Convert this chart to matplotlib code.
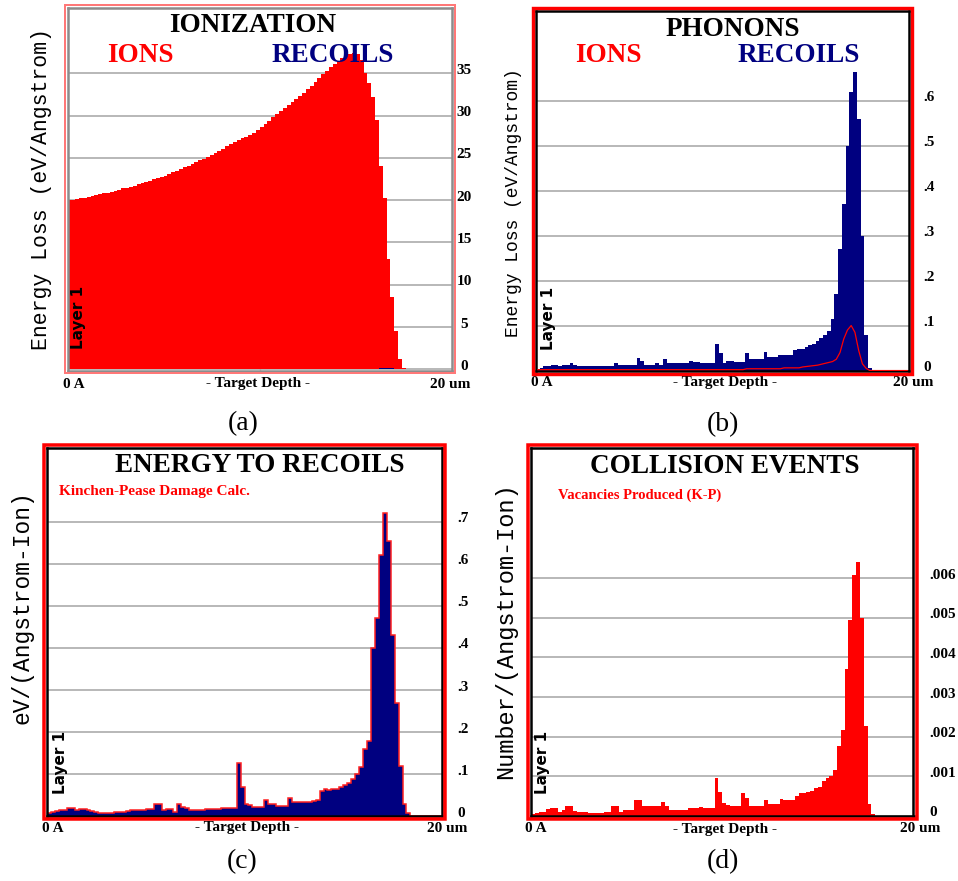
import numpy as np
import matplotlib.pyplot as plt
from matplotlib.patches import Rectangle

# 100 depth bins, 0 - 20 um (SRIM style)
depth_edges = np.linspace(0, 20, 101)
depth_centers = (depth_edges[:-1] + depth_edges[1:]) / 2

# (a) ionization, eV/Angstrom
ioniz_ions = [20.0, 20.0, 20.1, 20.2, 20.3, 20.4, 20.5, 20.6, 20.7, 20.8,
              20.9, 21.0, 21.1, 21.2, 21.4, 21.5, 21.6, 21.7, 21.9, 22.0,
              22.2, 22.3, 22.5, 22.6, 22.8, 22.9, 23.1, 23.3, 23.5, 23.7,
              23.9, 24.1, 24.3, 24.5, 24.7, 24.9, 25.1, 25.3, 25.6, 25.8,
              26.1, 26.4, 26.7, 26.9, 27.1, 27.3, 27.5, 27.7, 28.0, 28.3,
              28.7, 29.0, 29.4, 29.8, 30.2, 30.6, 30.9, 31.3, 31.6, 32.0,
              32.3, 32.7, 33.1, 33.5, 34.0, 34.4, 34.9, 35.3, 35.7, 36.1,
              36.5, 36.8, 37.1, 37.3, 37.4, 37.3, 36.6, 35.0, 33.8, 32.2,
              29.5, 24.0, 20.3, 13.0, 8.5, 4.5, 1.2, 0.2, 0, 0,
              0, 0, 0, 0, 0, 0, 0, 0, 0, 0]
ioniz_recoils = [0]*81 + [0.2, 0.2, 0.2, 0.2] + [0]*15

# (b) phonons, eV/Angstrom
phonon_recoils = [0.004, 0.006, 0.009, 0.009, 0.013, 0.013, 0.011, 0.013, 0.013, 0.017,
                  0.012, 0.011, 0.009, 0.009, 0.009, 0.009, 0.009, 0.009, 0.009, 0.009,
                  0.009, 0.017, 0.013, 0.012, 0.013, 0.013, 0.013, 0.027, 0.022, 0.012,
                  0.012, 0.012, 0.017, 0.012, 0.025, 0.017, 0.017, 0.017, 0.017, 0.017,
                  0.017, 0.022, 0.020, 0.019, 0.017, 0.017, 0.017, 0.017, 0.060, 0.038,
                  0.017, 0.022, 0.021, 0.020, 0.020, 0.020, 0.040, 0.025, 0.025, 0.025,
                  0.025, 0.042, 0.030, 0.030, 0.030, 0.035, 0.035, 0.035, 0.035, 0.045,
                  0.048, 0.048, 0.052, 0.056, 0.060, 0.066, 0.072, 0.078, 0.088, 0.115,
                  0.17, 0.27, 0.37, 0.50, 0.62, 0.663, 0.56, 0.30, 0.08, 0.005,
                  0, 0, 0, 0, 0, 0, 0, 0, 0, 0]
phonon_ions = ([0.002]*56 + [0.004]*10 + [0.006]*5 +
               [0.008, 0.009, 0.010, 0.011, 0.012, 0.014, 0.016, 0.018, 0.020, 0.025,
                0.04, 0.07, 0.09, 0.10, 0.085, 0.045, 0.015, 0.005] + [0]*11)

# (c) energy to recoils, eV/(Angstrom-Ion)
energy_recoils = [0.008, 0.010, 0.012, 0.014, 0.014, 0.020, 0.019, 0.014, 0.018, 0.018,
                  0.014, 0.012, 0.010, 0.009, 0.008, 0.008, 0.008, 0.010, 0.011, 0.011,
                  0.012, 0.016, 0.014, 0.014, 0.016, 0.018, 0.018, 0.030, 0.030, 0.016,
                  0.018, 0.018, 0.010, 0.029, 0.022, 0.020, 0.016, 0.014, 0.014, 0.015,
                  0.018, 0.018, 0.018, 0.018, 0.020, 0.020, 0.020, 0.020, 0.127, 0.070,
                  0.030, 0.026, 0.022, 0.022, 0.022, 0.038, 0.030, 0.029, 0.024, 0.024,
                  0.024, 0.043, 0.034, 0.034, 0.034, 0.034, 0.034, 0.036, 0.038, 0.060,
                  0.065, 0.063, 0.066, 0.066, 0.070, 0.075, 0.079, 0.088, 0.100, 0.118,
                  0.160, 0.180, 0.400, 0.470, 0.620, 0.720, 0.655, 0.430, 0.270, 0.120,
                  0.030, 0.008, 0, 0, 0, 0, 0, 0, 0, 0]

# (d) vacancies produced (K-P), in units of 0.001 Number/(Angstrom-Ion)
vacancies_e3 = [0.05, 0.07, 0.11, 0.11, 0.17, 0.21, 0.21, 0.11, 0.15, 0.24,
                0.24, 0.13, 0.11, 0.11, 0.10, 0.085, 0.085, 0.085, 0.085, 0.11,
                0.11, 0.24, 0.24, 0.11, 0.15, 0.15, 0.15, 0.41, 0.41, 0.24,
                0.24, 0.24, 0.24, 0.24, 0.35, 0.24, 0.15, 0.15, 0.15, 0.15,
                0.15, 0.20, 0.20, 0.20, 0.22, 0.20, 0.20, 0.20, 0.96, 0.60,
                0.32, 0.28, 0.24, 0.24, 0.24, 0.58, 0.45, 0.24, 0.24, 0.24,
                0.24, 0.41, 0.30, 0.30, 0.30, 0.42, 0.39, 0.39, 0.39, 0.49,
                0.58, 0.58, 0.60, 0.62, 0.70, 0.72, 0.88, 0.95, 1.00, 1.17,
                1.76, 2.18, 3.70, 4.94, 6.09, 6.40, 5.00, 2.26, 0.29, 0.04,
                0, 0, 0, 0, 0, 0, 0, 0, 0, 0]

ticks_a = [0, 5, 10, 15, 20, 25, 30, 35]
labels_a = ['0', '5', '10', '15', '20', '25', '30', '35']
ticks_b = [0, 0.1, 0.2, 0.3, 0.4, 0.5, 0.6]
labels_b = ['0', '.1', '.2', '.3', '.4', '.5', '.6']
ticks_c = [0, 0.1, 0.2, 0.3, 0.4, 0.5, 0.6, 0.7]
labels_c = ['0', '.1', '.2', '.3', '.4', '.5', '.6', '.7']
ticks_d = [0, 1, 2, 3, 4, 5, 6]
labels_d = ['0', '.001', '.002', '.003', '.004', '.005', '.006']

RED = '#ff0000'
NAVY = '#000080'
GRID = '#a4a4a4'
SERIF = 'Liberation Serif'
MONO = 'Liberation Mono'

W, H = 958, 881
fig = plt.figure(figsize=(W/100, H/100), dpi=100)


def box(x0, y0, x1, y1):
    return [x0/W, 1 - y1/H, (x1 - x0)/W, (y1 - y0)/H]


def frame(x0, y0, x1, y1, color, lw):
    fig.add_artist(Rectangle((x0/W, 1 - y1/H), (x1 - x0)/W, (y1 - y0)/H,
                             transform=fig.transFigure, fill=False,
                             edgecolor=color, linewidth=lw*0.72, zorder=5))


def txt(x, y, s, **kw):
    fig.text(x/W, 1 - y/H, s, **kw)


def panel(rect, ylim, ticks, labels, spine_color, dx, ha='left'):
    ax = fig.add_axes(box(*rect))
    ax.set_xlim(0, 20)
    ax.set_ylim(*ylim)
    ax.set_yticks(ticks)
    ax.tick_params(axis='y', length=0, labelleft=False, labelright=False)
    # tick labels on the right, sitting a little above their grid line
    for v, lab in zip(ticks, labels):
        ax.annotate(lab, xy=(1, v), xycoords=('axes fraction', 'data'),
                    xytext=(dx, 3), textcoords='offset pixels', ha=ha, va='center',
                    fontfamily=SERIF, fontweight='bold', fontsize=11, annotation_clip=False)
    ax.set_xticks([10])
    ax.set_xticklabels([])
    ax.tick_params(axis='x', direction='in', length=4, width=1, color='#c8c8c8')
    ax.grid(axis='y', color=GRID, linewidth=1.1)
    ax.set_axisbelow(True)
    for s in ax.spines.values():
        s.set_color(spine_color)
        s.set_linewidth(1.8)
    return ax


def depth_labels(xl, xc, xr, y):
    kw = dict(fontfamily=SERIF, fontweight='bold', fontsize=11, va='center')
    txt(xl, y, '0 A', ha='left', **kw)
    txt(xc, y, '- Target Depth -', ha='center', **kw)
    txt(xr, y, '20 um', ha='right', **kw)


def layer(x, y):
    txt(x, y, 'Layer 1', rotation=90, ha='center', va='center',
        fontfamily='DejaVu Sans', fontweight='bold', fontsize=11, zorder=10)


title_kw = dict(fontfamily=SERIF, fontweight='bold', fontsize=19.5, ha='center', va='center', zorder=10)

# ---------------- (a) IONIZATION ----------------
ax_a = panel((67.5, 7.8, 452, 370.5), (-0.14, 42.75), ticks_a, labels_a, '#8c8c8c', 12, ha='center')
ax_a.stairs(ioniz_ions, depth_edges, fill=True, color=RED, zorder=2)
ax_a.stairs(ioniz_recoils, depth_edges, fill=True, color=NAVY, zorder=3)
frame(64.5, 5.3, 455, 372.8, '#ff7878', 2)
txt(253, 25, 'IONIZATION', color='black', **title_kw)
txt(140, 56, 'IONS', color=RED, **title_kw)
txt(333, 56, 'RECOILS', color=NAVY, **title_kw)
txt(42, 189, 'Energy Loss (eV/Angstrom)', rotation=90, ha='center', va='center',
    fontfamily=MONO, fontsize=15.5)
layer(79, 317)
depth_labels(63, 258, 470, 384)
txt(243, 424, '(a)', fontfamily=SERIF, fontsize=20, ha='center', va='center')

# ---------------- (b) PHONONS ----------------
ax_b = panel((536, 10.5, 909, 371), (-0.001, 0.80), ticks_b, labels_b, 'black', 14)
ax_b.stairs(phonon_recoils, depth_edges, fill=True, color=NAVY, zorder=2)
ax_b.plot(depth_centers, phonon_ions, color=RED, linewidth=0.9, zorder=3)
frame(533, 7.7, 912, 373.8, RED, 3.4)
txt(733, 30, 'PHONONS', color='black', **title_kw)
txt(608, 56, 'IONS', color=RED, **title_kw)
txt(799, 56, 'RECOILS', color=NAVY, **title_kw)
txt(513, 203, 'Energy Loss (eV/Angstrom)', rotation=90, ha='center', va='center',
    fontfamily=MONO, fontsize=13)
layer(548, 318)
depth_labels(531, 725, 933, 383)
txt(723, 425, '(b)', fontfamily=SERIF, fontsize=20, ha='center', va='center')

# ---------------- (c) ENERGY TO RECOILS ----------------
ax_c = panel((47, 448, 442, 816.3), (0, 0.875), ticks_c, labels_c, 'black', 15)
ax_c.stairs(energy_recoils, depth_edges, fill=True, facecolor=NAVY, edgecolor='#ff2020',
            linewidth=1.1, zorder=2)
frame(43.7, 445.3, 445.3, 818.9, RED, 3.5)
txt(260, 465, 'ENERGY TO RECOILS', color='black', **title_kw)
txt(59, 492, 'Kinchen-Pease Damage Calc.', color=RED, fontfamily=SERIF, fontweight='bold',
    fontsize=11, ha='left', va='center')
txt(22, 607, 'eV/(Angstrom-Ion)', rotation=90, ha='center', va='center',
    fontfamily=MONO, fontsize=16.5)
layer(60, 762)
depth_labels(42, 247, 467, 828)
txt(242, 862, '(c)', fontfamily=SERIF, fontsize=20, ha='center', va='center')

# ---------------- (d) COLLISION EVENTS ----------------
ax_d = panel((531, 448, 913.5, 816.3), (-0.01, 9.29), ticks_d, labels_d, 'black', 15.5)
ax_d.stairs(vacancies_e3, depth_edges, fill=True, color=RED, zorder=2)
frame(528, 445.3, 916.7, 819.2, RED, 3.5)
txt(725, 466, 'COLLISION EVENTS', color='black', **title_kw)
txt(558, 495, 'Vacancies Produced (K-P)', color=RED, fontfamily=SERIF, fontweight='bold',
    fontsize=10.5, ha='left', va='center')
txt(506, 631, 'Number/(Angstrom-Ion)', rotation=90, ha='center', va='center',
    fontfamily=MONO, fontsize=17)
layer(543, 762)
depth_labels(525, 725, 940, 829)
txt(723, 862, '(d)', fontfamily=SERIF, fontsize=20, ha='center', va='center')

fig.savefig('out.png', dpi=100)
